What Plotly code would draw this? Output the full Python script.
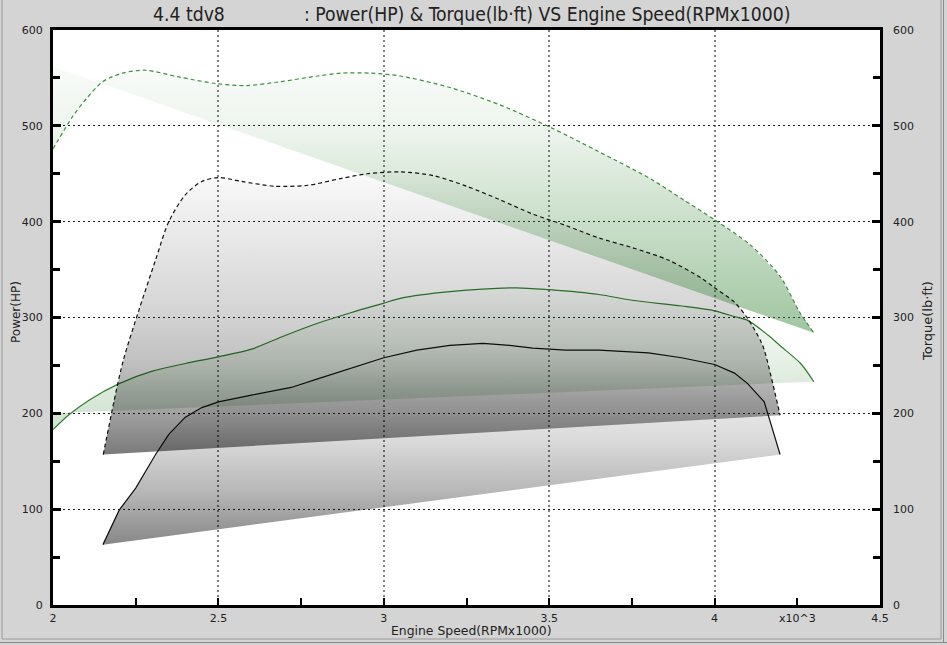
import plotly.graph_objects as go

# ---------------- data ----------------
# Tuned power (green solid), HP
rpm_hp_tuned = [2.00, 2.05, 2.11, 2.20, 2.30, 2.40, 2.50, 2.60, 2.70, 2.80, 2.90, 3.00,
                3.05, 3.20, 3.40, 3.50, 3.65, 3.75, 3.90, 4.00, 4.06, 4.10, 4.16, 4.20,
                4.26, 4.30]
hp_tuned = [183, 199, 214, 231, 244, 252, 259, 267, 281, 294, 305, 315,
            320, 327, 331, 329, 324, 318, 312, 307, 301, 297, 282, 270,
            252, 233]
hp_tuned_base_x = [2.00]
hp_tuned_base_y = [200]

# Stock power (black solid), HP
rpm_hp_stock = [2.151, 2.20, 2.25, 2.31, 2.35, 2.40, 2.45, 2.50, 2.60, 2.72, 2.80, 2.90,
                3.00, 3.10, 3.20, 3.30, 3.38, 3.45, 3.55, 3.65, 3.80, 3.90, 4.00, 4.06,
                4.10, 4.15, 4.198]
hp_stock = [63, 99, 122, 157, 178, 196, 206, 212, 219, 227, 236, 247,
            258, 266, 271, 273, 271, 268, 266, 266, 263, 258, 251, 242,
            231, 212, 157]

# Tuned torque (green dashed), lb-ft
rpm_tq_tuned = [2.00, 2.06, 2.10, 2.15, 2.21, 2.28, 2.38, 2.495, 2.585, 2.686, 2.80, 2.87,
                2.96, 3.05, 3.20, 3.35, 3.50, 3.65, 3.81, 3.905, 4.00, 4.107, 4.198,
                4.258, 4.30]
tq_tuned = [476, 510, 528, 546, 555, 558, 551, 544, 542, 546, 552, 555,
            555, 552, 540, 522, 499, 473, 444, 423, 402, 376, 343,
            305, 284]
tq_tuned_base_x = [2.00]
tq_tuned_base_y = [562]

# Stock torque (black dashed), lb-ft
rpm_tq_stock = [2.152, 2.21, 2.26, 2.31, 2.35, 2.40, 2.45, 2.50, 2.57, 2.67, 2.77, 2.87,
                2.95, 3.05, 3.15, 3.25, 3.35, 3.45, 3.55, 3.65, 3.75, 3.86, 3.96, 4.00,
                4.06, 4.10, 4.14, 4.152, 4.198]
tq_stock = [157, 252, 308, 360, 400, 428, 442, 446, 442, 437, 438, 445,
            450, 452, 448, 437, 423, 408, 396, 383, 373, 360, 341, 331,
            316, 299, 275, 264, 198]

x_tickvals = [2, 2.5, 3, 3.5, 4, 4.5]
x_ticktext = ["2", "2.5", "3", "3.5", "4", "4.5"]
y_tickvals = [0, 100, 200, 300, 400, 500, 600]
y_ticktext = ["0", "100", "200", "300", "400", "500", "600"]

title_left = "4.4 tdv8"
title_right = ": Power(HP) & Torque(lb·ft) VS Engine Speed(RPMx1000)"

# ---------------- figure ----------------
W, H = 947, 645
ML, MR, MT, MB = 53, 67, 30, 40
PW, PH = W - ML - MR, H - MT - MB


def px_x(p):
    return (p - ML) / PW


def px_y(p):
    return (H - MB - p) / PH


BLACK = "#111111"
GREEN = "#2f7f2f"
GREEN_D = "#3c8f3c"

fig = go.Figure()


def grad(rgb, stops):
    return dict(type="vertical",
                colorscale=[[f, "rgba(%d,%d,%d,%.3f)" % (rgb + (a,))] for f, a in stops])


# fills
fig.add_trace(go.Scatter(
    x=rpm_hp_stock, y=hp_stock, mode="lines", fill="toself", line=dict(width=0),
    fillcolor="rgba(0,0,0,0.2)",
    fillgradient=grad((0, 0, 0), [(0, 0.47), (0.27, 0.28), (0.53, 0.14), (1, 0.0)]),
    hoverinfo="skip", showlegend=False))
fig.add_trace(go.Scatter(
    x=rpm_tq_stock, y=tq_stock, mode="lines", fill="toself",
    line=dict(width=0, shape="spline", smoothing=0.8),
    fillcolor="rgba(0,0,0,0.2)",
    fillgradient=grad((0, 0, 0), [(0, 0.52), (0.15, 0.37), (0.32, 0.25), (0.5, 0.17),
                                  (0.7, 0.11), (1, 0.02)]),
    hoverinfo="skip", showlegend=False, yaxis="y2"))
fig.add_trace(go.Scatter(
    x=rpm_tq_tuned + tq_tuned_base_x, y=tq_tuned + tq_tuned_base_y, mode="lines",
    fill="toself", line=dict(width=0), fillcolor="rgba(50,130,50,0.2)",
    fillgradient=grad((50, 130, 50), [(0, 0.46), (0.5, 0.22), (0.75, 0.09), (1, 0.03)]),
    hoverinfo="skip", showlegend=False, yaxis="y2"))
fig.add_trace(go.Scatter(
    x=rpm_hp_tuned + hp_tuned_base_x, y=hp_tuned + hp_tuned_base_y, mode="lines",
    fill="toself", line=dict(width=0), fillcolor="rgba(50,130,50,0.15)",
    fillgradient=grad((50, 130, 50), [(0, 0.24), (0.4, 0.14), (1, 0.02)]),
    hoverinfo="skip", showlegend=False))

# lines
fig.add_trace(go.Scatter(x=rpm_hp_stock, y=hp_stock, mode="lines",
                         line=dict(color=BLACK, width=1.2), hoverinfo="skip", showlegend=False))
fig.add_trace(go.Scatter(x=rpm_tq_stock, y=tq_stock, mode="lines",
                         line=dict(color=BLACK, width=1.2, dash="4px,3px",
                                   shape="spline", smoothing=0.8),
                         hoverinfo="skip", showlegend=False, yaxis="y2"))
fig.add_trace(go.Scatter(x=rpm_hp_tuned, y=hp_tuned, mode="lines",
                         line=dict(color=GREEN, width=1.2, shape="spline", smoothing=0.8),
                         hoverinfo="skip", showlegend=False))
fig.add_trace(go.Scatter(x=rpm_tq_tuned, y=tq_tuned, mode="lines",
                         line=dict(color=GREEN_D, width=1.2, dash="4px,3px",
                                   shape="spline", smoothing=0.8),
                         hoverinfo="skip", showlegend=False, yaxis="y2"))

tickfont = dict(family="DejaVu Sans", size=11, color="#222222")

fig.update_layout(
    width=W, height=H,
    margin=dict(l=ML, r=MR, t=MT, b=MB, pad=0),
    paper_bgcolor="#d4d4d4",
    plot_bgcolor="#ffffff",
    font=dict(family="DejaVu Sans", size=11, color="#222222"),
    xaxis=dict(
        range=[2, 4.5], tickvals=x_tickvals, ticktext=x_ticktext,
        ticks="inside", ticklen=7, tickwidth=2, tickcolor="black",
        minor=dict(dtick=0.25, tick0=2, ticks="inside", ticklen=7, tickwidth=2,
                   tickcolor="black", showgrid=False),
        showgrid=True, gridcolor="#808080", gridwidth=2, griddash="2px,3px",
        showline=True, linecolor="black", linewidth=3, mirror=True,
        zeroline=False, tickfont=tickfont, ticklabelstandoff=1,
        layer="above traces", fixedrange=True,
    ),
    yaxis=dict(
        range=[0, 600], tickvals=y_tickvals, ticktext=y_ticktext,
        ticks="inside", ticklen=8, tickwidth=3, tickcolor="black",
        minor=dict(dtick=50, tick0=0, ticks="inside", ticklen=7, tickwidth=3,
                   tickcolor="black", showgrid=False),
        showgrid=True, gridcolor="#222222", gridwidth=1, griddash="2px,3px",
        showline=True, linecolor="black", linewidth=3, mirror=True,
        zeroline=False, tickfont=tickfont, ticklabelstandoff=5,
        layer="above traces", fixedrange=True,
    ),
    yaxis2=dict(
        range=[0, 600], tickvals=y_tickvals, ticktext=y_ticktext,
        overlaying="y", side="right",
        ticks="inside", ticklen=8, tickwidth=3, tickcolor="black",
        minor=dict(dtick=50, tick0=0, ticks="inside", ticklen=7, tickwidth=3,
                   tickcolor="black", showgrid=False),
        showgrid=False, showline=False, zeroline=False,
        tickfont=tickfont, ticklabelstandoff=12,
        layer="above traces", fixedrange=True,
    ),
)

ann = []
ann.append(dict(text=title_left, x=px_x(151), y=px_y(15), xref="paper", yref="paper",
                xanchor="left", yanchor="middle", showarrow=False,
                font=dict(family="DejaVu Sans Condensed, DejaVu Sans", size=19.2, color="#222222")))
ann.append(dict(text=title_right, x=px_x(302), y=px_y(15), xref="paper", yref="paper",
                xanchor="left", yanchor="middle", showarrow=False,
                font=dict(family="DejaVu Sans Condensed, DejaVu Sans", size=19.2, color="#222222")))
ann.append(dict(text="Engine Speed(RPMx1000)", x=px_x(471), y=px_y(630), xref="paper",
                yref="paper", xanchor="center", yanchor="middle", showarrow=False,
                font=dict(family="DejaVu Sans", size=12.4, color="#222222")))
ann.append(dict(text="x10^3", x=px_x(797), y=px_y(618), xref="paper", yref="paper",
                xanchor="center", yanchor="middle", showarrow=False,
                font=dict(family="DejaVu Sans", size=11, color="#222222")))
ann.append(dict(text="Power(HP)", x=px_x(16), y=px_y(312), xref="paper", yref="paper",
                xanchor="center", yanchor="middle", showarrow=False, textangle=-90,
                font=dict(family="DejaVu Sans", size=12, color="#222222")))
ann.append(dict(text="Torque(lb·ft)", x=px_x(927), y=px_y(321), xref="paper", yref="paper",
                xanchor="center", yanchor="middle", showarrow=False, textangle=-90,
                font=dict(family="DejaVu Sans", size=13, color="#222222")))
fig.update_layout(annotations=ann)

# window frame
fig.add_shape(type="rect", xref="paper", yref="paper",
              x0=px_x(2), x1=px_x(941), y0=px_y(639), y1=px_y(-10),
              line=dict(color="#9a9a9a", width=1), fillcolor="rgba(0,0,0,0)", layer="below")
fig.add_shape(type="line", xref="paper", yref="paper",
              x0=px_x(943.5), x1=px_x(943.5), y0=px_y(643), y1=px_y(-10),
              line=dict(color="#8a8a8a", width=1))
fig.add_shape(type="line", xref="paper", yref="paper",
              x0=px_x(0), x1=px_x(947), y0=px_y(642.5), y1=px_y(642.5),
              line=dict(color="#8a8a8a", width=1))

fig.write_html("out.html", config={"displayModeBar": False},
               post_script="document.body.style.margin='0';document.body.style.overflow='hidden';")
